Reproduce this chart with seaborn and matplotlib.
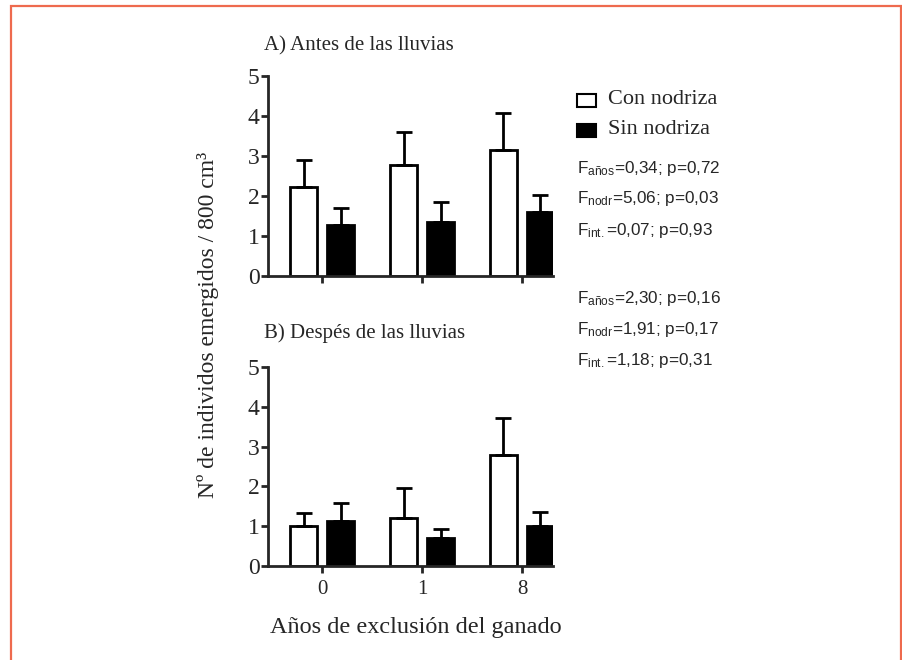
import numpy as np
import pandas as pd
import seaborn as sb
import matplotlib.pyplot as plt
from matplotlib.patches import Rectangle

# values
years = ["0", "1", "8"]
groups = ["Con nodriza", "Sin nodriza"]
antes_con = [2.22, 2.78, 3.14]
antes_con_err = [2.89, 3.60, 4.08]
antes_sin = [1.28, 1.34, 1.61]
antes_sin_err = [1.70, 1.84, 2.02]
despues_con = [1.00, 1.20, 2.79]
despues_con_err = [1.32, 1.97, 3.72]
despues_sin = [1.14, 0.70, 1.00]
despues_sin_err = [1.59, 0.94, 1.35]
stats_a = ["F$_{\\mathrm{años}}$=0,34; p=0,72",
           "F$_{\\mathrm{nodr}}$=5,06; p=0,03",
           "F$_{\\mathrm{int{.}}}$=0,07; p=0,93"]
stats_b = ["F$_{\\mathrm{años}}$=2,30; p=0,16",
           "F$_{\\mathrm{nodr}}$=1,91; p=0,17",
           "F$_{\\mathrm{int{.}}}$=1,18; p=0,31"]

W, H = 903, 660
def fx(x):
    return x / W
def fy(y):
    return 1 - y / H

sb.set_style("ticks")
plt.rcParams["font.family"] = ["Liberation Serif", "DejaVu Serif"]
plt.rcParams["mathtext.fontset"] = "custom"
plt.rcParams["mathtext.rm"] = "Liberation Sans"
plt.rcParams["mathtext.it"] = "Liberation Sans:italic"

def panel(ax, con, con_err, sin, sin_err):
    df = pd.DataFrame({"year": years * 2,
                       "group": [groups[0]] * 3 + [groups[1]] * 3,
                       "value": con + sin})
    sb.barplot(data=df, x="year", y="value", hue="group", hue_order=groups,
               palette={groups[0]: "white", groups[1]: "black"}, saturation=1,
               edgecolor="black", linewidth=2, width=0.74, gap=0.27,
               legend=False, ax=ax)
    tops = con_err + sin_err
    for p, t in zip(ax.patches[:6], tops):
        xc = p.get_x() + p.get_width() / 2
        h = p.get_height()
        ax.errorbar(xc, h, yerr=[[0], [t - h]], fmt="none", ecolor="black",
                    elinewidth=2, capsize=6, capthick=2, zorder=5)
    ax.set_ylim(0, 5)
    ax.set_xlim(-0.54, 2.31)
    ax.set_yticks([0, 1, 2, 3, 4, 5])
    ax.set_xlabel("")
    ax.set_ylabel("")
    sb.despine(ax=ax)
    for s in ["left", "bottom"]:
        ax.spines[s].set_linewidth(2)
    ax.tick_params(axis="both", width=2, length=5, labelsize=17, pad=1)

fig = plt.figure(figsize=(9.03, 6.60), dpi=100)
ax1 = fig.add_axes([0.2968, 0.5818, 0.3156, 0.3030])
ax2 = fig.add_axes([0.2968, 0.1424, 0.3156, 0.3015])
panel(ax1, antes_con, antes_con_err, antes_sin, antes_sin_err)
panel(ax2, despues_con, despues_con_err, despues_sin, despues_sin_err)
ax1.tick_params(axis="x", labelbottom=False)
ax2.tick_params(axis="x", labelsize=15, pad=5)

fig.text(fx(264), fy(46), "A) Antes de las lluvias", fontsize=15, va="center")
fig.text(fx(264), fy(333), "B) Despés de las lluvias", fontsize=15, va="center")
fig.text(fx(208), fy(325), "Nº de individos emergidos / 800 cm³", fontsize=17,
         rotation=90, ha="center", va="center")
fig.text(fx(416), fy(628), "Años de exclusión del ganado", fontsize=17.5,
         ha="center", va="center")

# legend
for (y, g, c) in [(100, groups[0], "white"), (130, groups[1], "black")]:
    fig.patches.append(Rectangle((fx(577), fy(y + 7)), 19 / W, 13 / H,
                                 facecolor=c, edgecolor="black", linewidth=1.5,
                                 transform=fig.transFigure))
    fig.text(fx(608), fy(y), g, fontsize=16, va="center")

for y, s in zip([168, 199, 230], stats_a):
    fig.text(fx(577), fy(y), s, fontsize=12.3, va="center", family="Liberation Sans")
for y, s in zip([298, 329, 360], stats_b):
    fig.text(fx(577), fy(y), s, fontsize=12.3, va="center", family="Liberation Sans")

# frame around the figure
fig.patches.append(Rectangle((fx(11.5), -0.05), fx(901) - fx(11.5), fy(5.5) + 0.05,
                             facecolor="none", edgecolor="#EE6A4E", linewidth=1.6,
                             transform=fig.transFigure))

plt.savefig("out.png", dpi=100)
